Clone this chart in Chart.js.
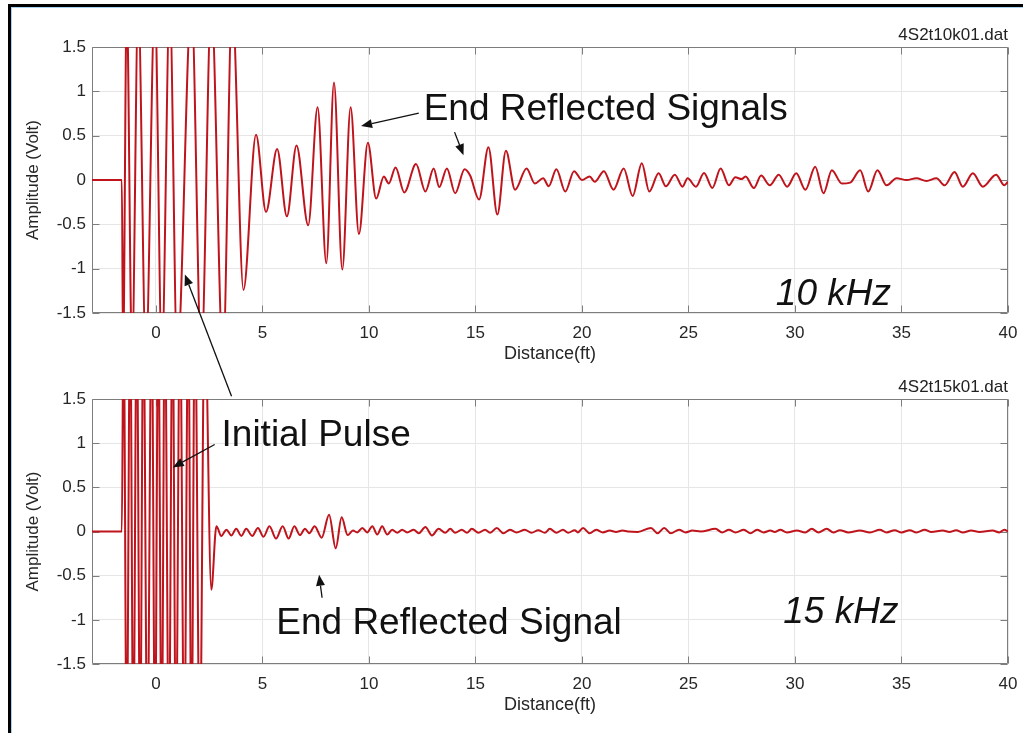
<!DOCTYPE html>
<html>
<head>
<meta charset="utf-8">
<title>4S2t10k01 / 4S2t15k01</title>
<script src="https://cdn.jsdelivr.net/npm/chart.js@4.4.1/dist/chart.umd.min.js"></script>
<style>
  html, body { margin: 0; background: #fff; }
  body { position: relative; width: 1023px; height: 733px; overflow: hidden; }
  .frame {
    position: absolute; left: 8px; top: 4px; width: 1040px; height: 760px;
    border-top: 3px solid #000; border-left: 3px solid #000;
    box-shadow: inset 1px 1px 0 #a6d4f0;
  }
  canvas { position: absolute; left: 0; top: 0; }
</style>
</head>
<body>
<div class="frame"></div>
<canvas id="trace10k" width="1023" height="733"></canvas>
<canvas id="trace15k" width="1023" height="733"></canvas>
<script>
const xTicks = [0, 5, 10, 15, 20, 25, 30, 35, 40];
const yTicks = [-1.5, -1, -0.5, 0, 0.5, 1, 1.5];

// 10 kHz record, turning points of the trace: distance (ft) / amplitude (V)
const dist10k = [
  -3, -1.6, -1.54, -1.37, -1.12, -0.83, -0.47, -0.05, 0.28, 0.65,
  1.0, 1.67, 2.13, 2.6, 3.15, 3.58, 4.11, 4.70, 5.17, 5.69,
  6.15, 6.60, 7.15, 7.59, 8.00, 8.36, 8.75, 9.14, 9.53, 9.95,
  10.34, 10.70, 10.93, 11.25, 11.66, 12.21, 12.65, 13.04, 13.30, 13.66,
  14.05, 14.49, 14.75, 15.17, 15.61, 16.03, 16.43, 16.86, 17.40, 17.79,
  18.18, 18.44, 18.80, 19.22, 19.63, 20.0, 20.36, 20.6, 21.03, 21.48,
  21.96, 22.38, 22.81, 23.16, 23.6, 23.94, 24.36, 24.72, 24.96, 25.35,
  25.73, 26.12, 26.51, 26.9, 27.2, 27.5, 27.68, 28.07, 28.41, 28.82,
  29.24, 29.63, 30.06, 30.49, 30.95, 31.34, 31.73, 32.2, 32.59, 33.06,
  33.44, 33.87, 34.3, 34.77, 35.24, 35.7, 36.17, 36.64, 37.03, 37.49,
  37.88, 38.35, 38.82, 39.44, 39.83, 40
];
const volt10k = [
  0, 0, -2, 2, -2, 2, -2, 2, -2, 2,
  -2, 2, -2, 2, -2, 2, -1.24, 0.51, -0.36, 0.35,
  -0.41, 0.39, -0.51, 0.82, -0.94, 1.10, -1.01, 0.82, -0.61, 0.42,
  -0.21, 0.04, -0.04, 0.14, -0.14, 0.18, -0.13, 0.13, -0.08, 0.13,
  -0.15, 0.12, 0.05, -0.22, 0.37, -0.39, 0.33, -0.11, 0.13, -0.04,
  0.02, -0.07, 0.12, -0.13, 0.10, 0.0, 0.04, -0.02, 0.10, -0.11,
  0.13, -0.18, 0.19, -0.13, 0.075, -0.07, 0.06, -0.075, 0.02, -0.075,
  0.08, -0.09, 0.13, -0.06, 0.03, 0.01, 0.04, -0.09, 0.05, -0.06,
  0.06, -0.075, 0.075, -0.11, 0.15, -0.15, 0.11, -0.04, -0.03, 0.11,
  -0.13, 0.11, -0.06, 0.02, 0.0, 0.02, -0.01, 0.02, -0.06, 0.09,
  -0.075, 0.075, -0.075, 0.06, -0.06, -0.02
];

// 15 kHz record
const dist15k = [
  -3, -1.6, -1.52, -1.37, -1.21, -1.06, -0.90, -0.74, -0.59, -0.40,
  -0.20, -0.04, 0.11, 0.27, 0.42, 0.61, 0.78, 0.94, 1.13, 1.33,
  1.52, 1.67, 1.83, 2.06, 2.29, 2.60, 2.84, 3.07, 3.31, 3.54,
  3.77, 4.01, 4.24, 4.52, 4.79, 5.05, 5.33, 5.64, 5.95, 6.23,
  6.50, 6.76, 7.00, 7.20, 7.45, 7.78, 8.13, 8.44, 8.72, 9.00,
  9.25, 9.45, 9.69, 9.92, 10.16, 10.39, 10.62, 10.86, 11.09, 11.33,
  11.56, 11.79, 12.10, 12.34, 12.65, 12.96, 13.27, 13.58, 13.82, 14.05,
  14.36, 14.60, 14.83, 15.14, 15.45, 15.69, 16.00, 16.31, 16.62, 16.93,
  17.32, 17.63, 17.95, 18.26, 18.49, 18.80, 19.11, 19.35, 19.66, 19.81,
  20.05, 20.36, 20.67, 20.98, 21.30, 21.60, 21.90, 22.15, 22.62, 23.24,
  23.55, 23.86, 24.17, 24.56, 24.87, 25.18, 25.57, 26.27, 26.58, 26.90,
  27.21, 27.60, 27.91, 28.22, 28.53, 28.84, 29.05, 29.31, 29.62, 30.09,
  30.48, 30.79, 31.10, 31.49, 31.80, 32.11, 32.50, 33.05, 33.52, 33.98,
  34.30, 34.68, 35.00, 35.39, 35.70, 36.09, 36.40, 36.94, 37.25, 37.57,
  37.88, 38.27, 38.66, 39.28, 39.59, 39.83, 40
];
const volt15k = [
  0, 0, 2.6, -2.6, 2.6, -2.6, 2.6, -2.6, 2.6, -2.6,
  2.6, -2.6, 2.6, -2.6, 2.6, -2.6, 2.6, -2.6, 2.6, -2.6,
  2.6, -2.6, 2.6, -2.6, 2.6, -0.66, 0.06, -0.05, 0.02, -0.045,
  0.03, -0.05, 0.03, -0.05, 0.04, -0.06, 0.06, -0.08, 0.06, -0.08,
  0.06, -0.04, 0.03, -0.02, 0.06, -0.07, 0.19, -0.19, 0.16, -0.04,
  0.01, -0.01, 0.04, -0.01, 0.06, -0.035, 0.06, -0.035, 0.02, -0.015,
  0.02, -0.01, 0.02, -0.02, 0.05, -0.045, 0.03, -0.015, 0.03, -0.015,
  0.02, -0.015, 0.03, -0.015, 0.02, -0.015, 0.04, -0.02, 0.02, -0.01,
  0.02, -0.015, 0.015, -0.015, 0.03, -0.015, 0.02, -0.015, 0.015, -0.01,
  0.04, -0.02, 0.02, -0.01, 0.01, -0.005, 0.01, 0.0, -0.005, 0.04,
  -0.02, 0.04, -0.02, 0.02, -0.01, 0.01, 0.0, 0.03, -0.01, 0.02,
  -0.01, 0.02, -0.02, 0.02, -0.01, 0.01, -0.005, 0.02, -0.01, 0.01,
  -0.01, 0.03, -0.01, 0.03, -0.01, 0.015, -0.01, 0.01, -0.01, 0.02,
  -0.01, 0.015, -0.01, 0.015, -0.01, 0.02, -0.005, 0.01, -0.005, 0.015,
  -0.01, 0.01, -0.005, 0.01, -0.01, 0.02, 0
];

Chart.defaults.font.family = "'Liberation Sans', Arial, sans-serif";
Chart.defaults.color = '#262626';

// matlab-style box with inward tick marks on all four sides
const axesBox = {
  id: 'axesBox',
  beforeDatasetsDraw(chart) {
    const { ctx, chartArea: a, scales: { x, y } } = chart;
    const len = 7;
    const left = Math.round(a.left) + 0.5, right = Math.round(a.right) - 0.5;
    const top = Math.round(a.top) + 0.5, bottom = Math.round(a.bottom) - 0.5;
    ctx.save();
    ctx.strokeStyle = '#7d7d7d';
    ctx.lineWidth = 1;
    ctx.beginPath();
    for (const v of xTicks) {
      const px = Math.round(x.getPixelForValue(v)) + 0.5;
      ctx.moveTo(px, bottom); ctx.lineTo(px, bottom - len);
      ctx.moveTo(px, top); ctx.lineTo(px, top + len);
    }
    for (const v of yTicks) {
      const py = Math.round(y.getPixelForValue(v)) + 0.5;
      ctx.moveTo(left, py); ctx.lineTo(left + len, py);
      ctx.moveTo(right, py); ctx.lineTo(right - len, py);
    }
    ctx.rect(left, top, right - left, bottom - top);
    ctx.stroke();
    ctx.restore();
  }
};

// callout texts and arrows, placed in data units
const notes = {
  id: 'notes',
  afterDraw(chart, args, opts) {
    const { ctx, scales: { x, y } } = chart;
    ctx.save();
    ctx.fillStyle = '#111';
    ctx.strokeStyle = '#111';
    ctx.lineWidth = 1.3;
    ctx.textBaseline = 'middle';
    for (const n of opts.labels) {
      ctx.font = n.font;
      ctx.fillText(n.text, x.getPixelForValue(n.at[0]), y.getPixelForValue(n.at[1]));
    }
    for (const [from, to] of opts.arrows) {
      const x0 = x.getPixelForValue(from[0]), y0 = y.getPixelForValue(from[1]);
      const x1 = x.getPixelForValue(to[0]), y1 = y.getPixelForValue(to[1]);
      const ang = Math.atan2(y1 - y0, x1 - x0);
      const head = 11, half = 4.5;
      const bx = x1 - head * Math.cos(ang), by = y1 - head * Math.sin(ang);
      ctx.beginPath();
      ctx.moveTo(x0, y0);
      ctx.lineTo(bx, by);
      ctx.stroke();
      ctx.beginPath();
      ctx.moveTo(x1, y1);
      ctx.lineTo(bx + half * Math.sin(ang), by - half * Math.cos(ang));
      ctx.lineTo(bx - half * Math.sin(ang), by + half * Math.cos(ang));
      ctx.closePath();
      ctx.fill();
    }
    ctx.restore();
  }
};

const bigFont = "37px 'Liberation Sans', Arial, sans-serif";
const bigItalic = "italic 37px 'Liberation Sans', Arial, sans-serif";

function drawTrace(id, dist, volt, file, padTop, padBottom, callouts) {
  return new Chart(document.getElementById(id), {
    type: 'line',
    data: {
      datasets: [{
        data: dist.map((d, i) => ({ x: d, y: volt[i] })),
        borderColor: '#bf141c',
        borderWidth: 2,
        pointRadius: 0,
        cubicInterpolationMode: 'monotone'
      }]
    },
    options: {
      responsive: false,
      animation: false,
      layout: { padding: { left: 0, right: 15, top: padTop, bottom: padBottom } },
      plugins: {
        legend: { display: false },
        tooltip: { enabled: false },
        title: {
          display: true,
          text: file,
          align: 'end',
          color: '#222',
          font: { size: 17, weight: 'normal' },
          padding: { top: 25.6, bottom: 1.0 }
        },
        notes: callouts
      },
      scales: {
        x: {
          type: 'linear',
          min: -3,
          max: 40,
          afterBuildTicks: s => { s.ticks = xTicks.map(value => ({ value })); },
          afterFit: s => {
            s.height = 52;
            // the "40" label may hang past the plot edge, keep the area fixed
            s.paddingLeft = 0;
            s.paddingRight = 0;
          },
          grid: { color: '#e6e6e6', drawTicks: false },
          border: { display: false },
          ticks: { padding: 10, font: { size: 17 }, maxRotation: 0, autoSkip: false },
          title: { display: true, text: 'Distance(ft)', font: { size: 18 }, padding: 0 }
        },
        y: {
          min: -1.5,
          max: 1.5,
          afterBuildTicks: s => { s.ticks = yTicks.map(value => ({ value })); },
          afterFit: s => { s.width = 92; },
          grid: { color: '#e6e6e6', drawTicks: false },
          border: { display: false },
          ticks: { padding: 6, font: { size: 17 }, callback: v => String(v) },
          title: { display: true, text: 'Amplitude (Volt)', font: { size: 17 }, padding: { top: 23, bottom: 0 } }
        }
      }
    },
    plugins: [axesBox, notes]
  });
}

drawTrace('trace10k', dist10k, volt10k, '4S2t10k01.dat', 0, 368, {
  labels: [
    { text: 'End Reflected Signals', at: [12.57, 0.79], font: bigFont },
    { text: '10 kHz', at: [29.1, -1.29], font: bigItalic }
  ],
  arrows: [
    [[12.34, 0.755], [9.63, 0.61]],
    [[14.02, 0.54], [14.44, 0.28]]
  ]
});

drawTrace('trace15k', dist15k, volt15k, '4S2t15k01.dat', 352, 17, {
  labels: [
    { text: 'Initial Pulse', at: [3.08, 1.08], font: bigFont },
    { text: 'End Reflected Signal', at: [5.65, -1.05], font: bigFont },
    { text: '15 kHz', at: [29.45, -0.92], font: bigItalic }
  ],
  arrows: [
    [[2.76, 0.985], [0.79, 0.725]],
    [[3.55, 1.53], [1.36, 2.91]],
    [[7.80, -0.75], [7.66, -0.49]]
  ]
});
</script>
</body>
</html>
